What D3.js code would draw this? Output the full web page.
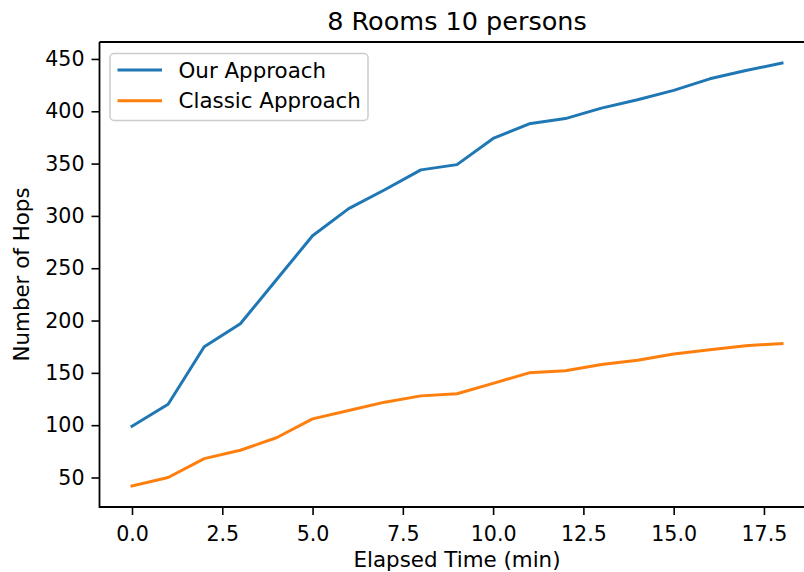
<!DOCTYPE html>
<html>
<head>
<meta charset="utf-8">
<script src="https://cdn.jsdelivr.net/npm/d3@7"></script>
<style>
  html, body { margin: 0; padding: 0; background: #fff; }
  svg { display: block; font-family: "DejaVu Sans", sans-serif; }
</style>
</head>
<body>
<svg id="chart" width="804" height="572"></svg>
<script>
// Elapsed time samples (minutes)
const minutes = [0, 1, 2, 3, 4, 5, 6, 7, 8, 9, 10, 11, 12, 13, 14, 15, 16, 17, 18];
// Number of hops per approach
const ourApproach     = [99, 120, 175, 197, 239, 281, 307, 325, 344, 349, 374, 388, 393, 403, 411, 420, 431, 439, 446];
const classicApproach = [42, 50, 68, 76, 88, 106, 114, 122, 128, 130, 140, 150, 152, 158, 162, 168, 172, 176, 178];
const seriesNames  = ["Our Approach", "Classic Approach"];
const seriesColors = ["#1f77b4", "#ff7f0e"];
const xTicks = [0, 2.5, 5, 7.5, 10, 12.5, 15, 17.5];
const yTicks = [50, 100, 150, 200, 250, 300, 350, 400, 450];

const svg = d3.select("#chart");
const box = { left: 99.5, right: 814.5, top: 42, bottom: 507 };

// 5% padding around the data range, as in the usual autoscaled plot
const xMin = d3.min(minutes), xMax = d3.max(minutes);
const xPad = (xMax - xMin) * 0.05;
const allY = ourApproach.concat(classicApproach);
const yMin = d3.min(allY), yMax = d3.max(allY);
const yPad = (yMax - yMin) * 0.05;

const x = d3.scaleLinear().domain([xMin - xPad, xMax + xPad]).range([box.left, box.right]);
const y = d3.scaleLinear().domain([yMin - yPad, yMax + yPad]).range([box.bottom, box.top]);

// Lines
const line = d3.line().x((d, i) => x(minutes[i])).y(d => y(d));
[ourApproach, classicApproach].forEach((vals, k) => {
  svg.append("path")
    .datum(vals)
    .attr("d", line)
    .attr("fill", "none")
    .attr("stroke", seriesColors[k])
    .attr("stroke-width", 3)
    .attr("stroke-linejoin", "round")
    .attr("stroke-linecap", "square");
});

// Axes
const xAxis = svg.append("g")
  .attr("transform", `translate(0,${box.bottom})`)
  .call(d3.axisBottom(x).tickValues(xTicks).tickFormat(d3.format(".1f")).tickSize(8).tickPadding(7).tickSizeOuter(0));
const yAxis = svg.append("g")
  .attr("transform", `translate(${box.left},0)`)
  .call(d3.axisLeft(y).tickValues(yTicks).tickSize(8).tickPadding(7).tickSizeOuter(0));

[xAxis, yAxis].forEach(g => {
  g.select(".domain").remove();
  g.selectAll(".tick line").attr("stroke", "#000").attr("stroke-width", 1.6);
  g.selectAll(".tick text").attr("fill", "#000").style("font-size", "20.6px").style("font-family", "DejaVu Sans");
});
xAxis.selectAll(".tick text").attr("dy", "0.93em");

// Spines (left, bottom, top; right edge lies beyond the canvas)
svg.append("path")
  .attr("d", `M${box.left},${box.top}V${box.bottom}H${box.right}M${box.left},${box.top}H${box.right}`)
  .attr("fill", "none").attr("stroke", "#000").attr("stroke-width", 1.8);

// Title and axis labels
svg.append("text")
  .attr("x", (box.left + box.right) / 2).attr("y", 30)
  .attr("text-anchor", "middle").style("font-size", "25.5px")
  .text("8 Rooms 10 persons");
svg.append("text")
  .attr("x", (box.left + box.right) / 2).attr("y", 567)
  .attr("text-anchor", "middle").style("font-size", "21.4px")
  .text("Elapsed Time (min)");
svg.append("text")
  .attr("transform", `translate(29,${(box.top + box.bottom) / 2}) rotate(-90)`)
  .attr("text-anchor", "middle").style("font-size", "21.4px")
  .text("Number of Hops");

// Legend
const legend = svg.append("g");
legend.append("rect")
  .attr("x", 110).attr("y", 53.5).attr("width", 258).attr("height", 67)
  .attr("rx", 4).attr("fill", "#fff").attr("fill-opacity", 0.8)
  .attr("stroke", "#ccc").attr("stroke-width", 1.5);
seriesNames.forEach((name, k) => {
  const cy = 70 + k * 30.7;
  legend.append("line")
    .attr("x1", 117.5).attr("x2", 162).attr("y1", cy).attr("y2", cy)
    .attr("stroke", seriesColors[k]).attr("stroke-width", 3);
  legend.append("text")
    .attr("x", 178.5).attr("y", cy).attr("dy", "0.36em")
    .style("font-size", "21.4px").text(name);
});
</script>
</body>
</html>
